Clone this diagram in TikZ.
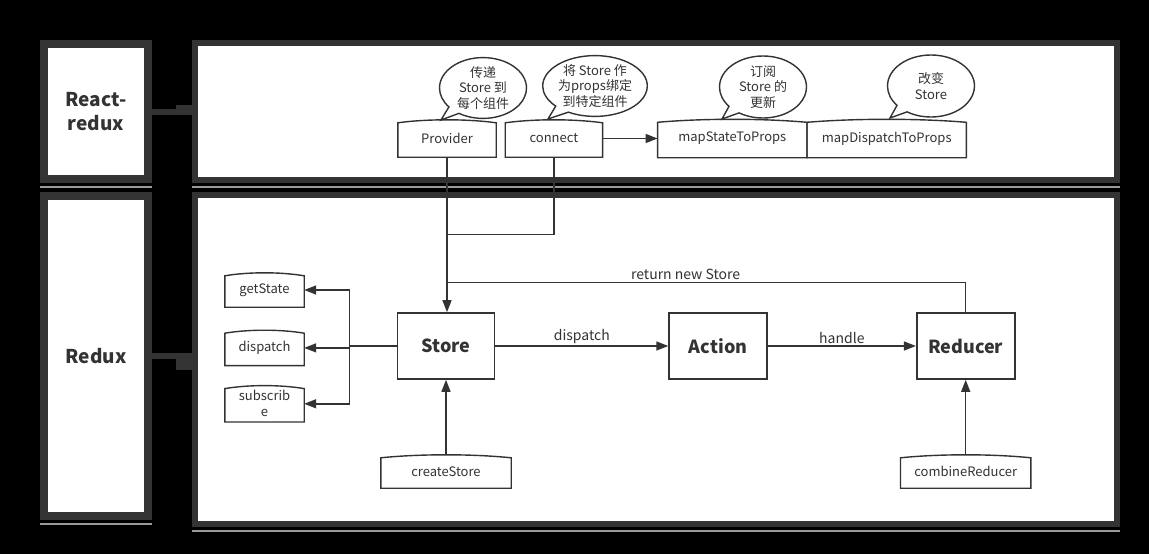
\documentclass[tikz,border=0pt]{standalone}
\usepackage{fontspec}
\setmainfont{Noto Sans CJK SC}
\usetikzlibrary{positioning,calc,arrows.meta,shapes.geometric,shapes.callouts}
\definecolor{framegray}{HTML}{333333}
\definecolor{shadegray}{HTML}{9A9A9A}
\definecolor{inkgray}{HTML}{333333}

\begin{document}
\begin{tikzpicture}[x=1pt,y=-1pt,
    tag/.style={draw=framegray,line width=8pt,fill=white,inner sep=0pt,minimum width=104pt,
      font=\fontsize{19}{24}\selectfont\bfseries,text=inkgray,align=center},
    panel/.style={draw=framegray,line width=6pt,fill=white,minimum width=922pt,inner sep=0pt},
    bar/.style={draw=framegray,line width=6pt},
    api/.style={inner sep=0pt,font=\fontsize{13}{16}\selectfont,text=inkgray,align=center},
    apiline/.style={draw=inkgray,line width=1.4pt},
    core/.style={draw=inkgray,line width=1.6pt,minimum width=97pt,minimum height=66pt,
      font=\fontsize{18}{22}\selectfont\bfseries,text=inkgray},
    bubble/.style={ellipse callout,draw=inkgray,line width=1.4pt,fill=white,inner sep=0pt,
      callout pointer arc=18,font=\fontsize{13}{15.5}\selectfont,text=inkgray,align=center},
    flow/.style={draw=inkgray,line width=1.4pt,-{Triangle[length=12pt,width=9pt]}},
    link/.style={draw=inkgray,line width=1.4pt},
    lbl/.style={font=\fontsize{14}{16}\selectfont,text=inkgray,inner sep=2pt}
  ]
  \useasboundingbox (0,0) rectangle (1149,554);
  \fill[black] (0,0) rectangle (1149,554);

  % layers
  \node[tag,minimum height=135pt] (rrtag) at (96,111.5) {React-\\redux};
  \node[tag,minimum height=320pt] (rxtag) at (96,356) {Redux};
  \node[panel,minimum height=137pt] (rrpanel) at (656,111.5) {};
  \node[panel,minimum height=329pt] (rxpanel) at (656,359.5) {};
  \foreach \n in {rrtag,rxtag,rrpanel,rxpanel}
    \draw[shadegray,line width=2pt] ([yshift=-4pt]\n.south west) -- ([yshift=-4pt]\n.south east);
  \draw[bar] (rrtag.east) -- (rrpanel.west |- rrtag.east);
  \fill[framegray] ($(rrpanel.west |- rrtag.east)+(-16,-7)$) rectangle ($(rrpanel.west |- rrtag.east)+(0,3)$);
  \draw[bar] (rxtag.east) -- (rxpanel.west |- rxtag.east);
  \fill[framegray] ($(rxpanel.west |- rxtag.east)+(-16,-3)$) rectangle ($(rxpanel.west |- rxtag.east)+(0,14)$);

  % react-redux
  \node[api,minimum width=98pt,minimum height=37pt] (prov) at (447,138.5) {Provider};
  \node[api,minimum width=97pt,minimum height=37pt,right=9pt of prov] (conn) {connect};
  \node[api,minimum width=149pt,minimum height=38pt,right=55pt of conn] (msp) {mapStateToProps};
  \node[api,minimum width=159pt,minimum height=38pt,right=0pt of msp] (mdp) {mapDispatchToProps};

  % redux
  \node[core] (store) at (446,346) {Store};
  \node[core,minimum width=98pt,right=173pt of store] (action) {Action};
  \node[core,minimum width=98pt,right=148pt of action] (reducer) {Reducer};
  \node[api,minimum width=79pt,minimum height=34pt] (gs) at (264.5,290) {getState};
  \node[api,minimum width=79pt,minimum height=35pt,below=23pt of gs] (dsp) {dispatch};
  \node[api,minimum width=79pt,minimum height=36pt,below=20pt of dsp] (sub) {subscrib\\e};
  \node[api,minimum width=130pt,minimum height=33pt] (cs) at (446,471.5) {createStore};
  \node[api,minimum width=130pt,minimum height=33pt] (cr) at (reducer |- cs) {combineReducer};

  \foreach \n in {prov,conn,msp,mdp,gs,dsp,sub,cs,cr}
    \draw[apiline] (\n.south west) -- (\n.south east) -- ([yshift=-3pt]\n.north east)
      .. controls ($(\n.north east)!.3!(\n.north west)+(0,-1)$) and ($(\n.north west)!.3!(\n.north east)+(0,-1)$)
      .. ([yshift=-3pt]\n.north west) -- cycle;

  % bubbles
  \node[bubble,minimum width=87pt,minimum height=60pt,callout absolute pointer={(441,120)}] (b1) at (483,88) {传递\\Store 到\\每个组件};
  \node[bubble,minimum width=96pt,minimum height=58pt,callout absolute pointer={(548,119)}] (b2) at (595,86) {将 Store 作\\为props绑定\\到特定组件};
  \node[bubble,minimum width=87pt,minimum height=62pt,callout absolute pointer={(722,119)}] (b3) at (763,87) {订阅\\Store 的\\更新};
  \node[bubble,minimum width=87pt,minimum height=62pt,callout absolute pointer={(890,118)}] (b4) at (931,86) {改变\\Store};

  % connectors
  \path (prov.south) ++(0,77) coordinate (cjoin);
  \path (prov.south) ++(0,125) coordinate (rjoin);
  \path (store.west) ++(-47,0) coordinate (fan);
  \draw[flow] (conn) -- (msp);
  \draw[flow] (prov.south) -- (prov.south |- store.north);
  \draw[link] (conn.south) |- (cjoin);
  \draw[link] (reducer.north) |- node[lbl,above,pos=.77] {return new Store} (rjoin);
  \draw[flow] (store) -- node[lbl,above] {dispatch} (action);
  \draw[flow] (action) -- node[lbl,above] {handle} (reducer);
  \draw[flow] (cs) -- (store);
  \draw[flow] (cr) -- (reducer);
  \draw[link] (store.west) -- (fan);
  \draw[link] (fan |- gs.east) -- (fan |- sub.east);
  \foreach \n in {gs,dsp,sub}
    \draw[flow] (fan |- \n.east) -- (\n.east);
\end{tikzpicture}
\end{document}
